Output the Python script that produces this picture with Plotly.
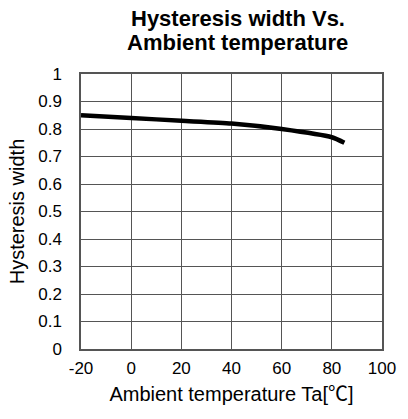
import plotly.graph_objects as go

temps = [-20, 0, 20, 40, 60, 80, 85]
hyst = [0.85, 0.84, 0.83, 0.82, 0.80, 0.77, 0.75]
x_ticks = [-20, 0, 20, 40, 60, 80, 100]
y_ticks = [0, 0.1, 0.2, 0.3, 0.4, 0.5, 0.6, 0.7, 0.8, 0.9, 1]

fig = go.Figure()
fig.add_trace(go.Scatter(x=temps, y=hyst, mode="lines",
                         line=dict(color="black", width=4.5, shape="spline", smoothing=0.6)))

font = "Liberation Sans, Arial, sans-serif"
fig.update_layout(
    width=408, height=419,
    margin=dict(l=81, r=15, t=74, b=70),
    paper_bgcolor="white", plot_bgcolor="white",
    showlegend=False,
    font=dict(family=font, color="black", size=17),
)
fig.add_annotation(text="<b>Hysteresis width Vs.</b>", xref="paper", yref="paper",
                   x=0.52, y=1.0 + (74 - 18) / 275.0, xanchor="center", yanchor="middle",
                   showarrow=False, font=dict(size=22, family=font, color="black"))
fig.add_annotation(text="<b>Ambient temperature</b>", xref="paper", yref="paper",
                   x=0.52, y=1.0 + (74 - 43) / 275.0, xanchor="center", yanchor="middle",
                   showarrow=False, font=dict(size=22, family=font, color="black"))
fig.update_xaxes(range=[-20, 100], tickvals=x_ticks, ticktext=[str(v) for v in x_ticks],
                 showgrid=True, gridcolor="#555", gridwidth=1,
                 showline=True, linecolor="#555", linewidth=1.5, mirror=True,
                 zeroline=False, ticks="", tickfont=dict(size=17), ticklabelstandoff=3,
                 title=dict(text="Ambient temperature Ta[<span style='font-family:Noto Sans CJK JP'>℃</span>]",
                            font=dict(size=20), standoff=2))
fig.update_yaxes(range=[0, 1], tickvals=y_ticks, ticktext=[("%g" % v) for v in y_ticks],
                 showgrid=True, gridcolor="#555", gridwidth=1,
                 showline=True, linecolor="#555", linewidth=1.5, mirror=True,
                 zeroline=False, ticks="", tickfont=dict(size=17), ticklabelstandoff=14,
                 title=dict(text="Hysteresis width", font=dict(size=20), standoff=8))
fig.write_html("out.html")
